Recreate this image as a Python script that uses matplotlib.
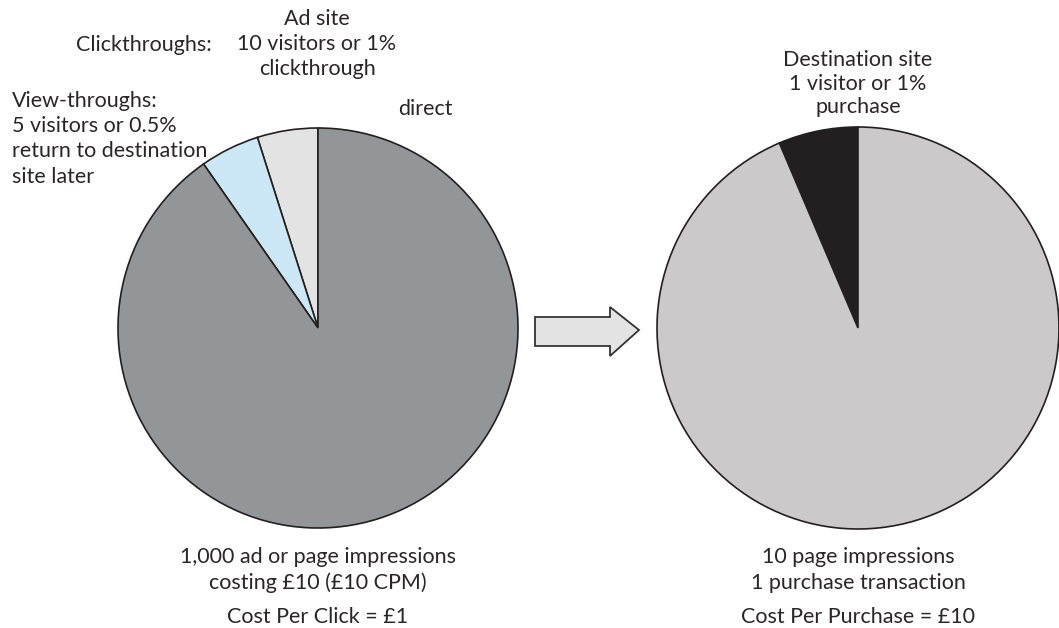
import matplotlib
matplotlib.use("Agg")
import matplotlib.pyplot as plt
from matplotlib.patches import Polygon

# ---- data ----
left_categories = ["Direct", "View-throughs", "Other impressions"]
left_values = [4.9, 4.8, 90.3]
left_colors = ["#e3e3e3", "#cce8f6", "#939698"]

right_categories = ["Purchase", "No purchase"]
right_values = [6.4, 93.6]
right_colors = ["#231f20", "#cbc9ca"]

W, H = 1059, 628
fig = plt.figure(figsize=(W / 100, H / 100), dpi=100)
ax = fig.add_axes([0, 0, 1, 1])

def Y(py):
    return H - py

wedge = dict(edgecolor="#231f20", linewidth=1.2)
ax.pie(left_values, colors=left_colors, startangle=90, counterclock=True,
       center=(318, Y(328)), radius=200, wedgeprops=wedge, frame=True)
ax.pie(right_values, colors=right_colors, startangle=90, counterclock=True,
       center=(858, Y(328)), radius=201, wedgeprops=wedge, frame=True)
ax.set_xlim(0, W)
ax.set_ylim(0, H)
ax.set_aspect("equal")
ax.axis("off")

# arrow
arrow_pts = [(535, 317), (610, 317), (610, 307), (639, 330), (610, 356), (610, 346), (535, 346)]
ax.add_patch(Polygon([(x, Y(y)) for x, y in arrow_pts], closed=True,
                     facecolor="#e3e3e3", edgecolor="#333333", linewidth=1.3))

tc = "#2a2627"
fam = ["Lato", "DejaVu Sans"]
fs = 15.5

def t(x, y, s, ha="center"):
    ax.text(x, Y(y), s, ha=ha, va="baseline", fontsize=fs, color=tc, family=fam)

t(317, 25, "Ad site")
t(317, 50, "10 visitors or 1%")
t(317, 75, "clickthrough")
t(212, 51, "Clickthroughs:", ha="right")
t(12, 107, "View-throughs:", ha="left")
t(12, 132, "5 visitors or 0.5%", ha="left")
t(12, 157, "return to destination", ha="left")
t(12, 183, "site later", ha="left")
t(425, 115, "direct")

t(858, 66, "Destination site")
t(858, 90, "1 visitor or 1%")
t(858, 113, "purchase")

t(318, 563, "1,000 ad or page impressions")
t(318, 589, "costing £10 (£10 CPM)")
t(318, 623, "Cost Per Click = £1")
t(858, 563, "10 page impressions")
t(858, 589, "1 purchase transaction")
t(858, 623, "Cost Per Purchase = £10")

fig.savefig("out.png", dpi=100)
